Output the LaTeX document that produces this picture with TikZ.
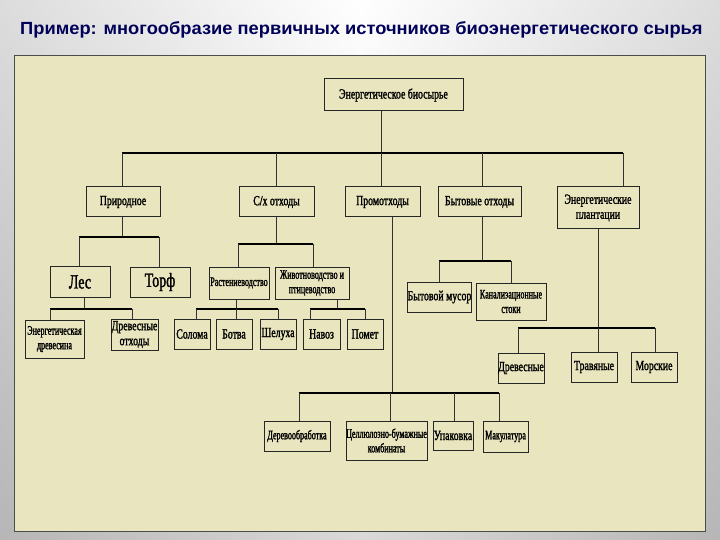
\documentclass[tikz,border=0pt]{standalone}
\usepackage{fontspec}
\setmainfont{Liberation Serif}
\newfontfamily\boxfont[FakeStretch=0.7,FakeBold=1.5]{Liberation Serif}
\newfontfamily\boxfontn[FakeStretch=0.62,FakeBold=1.5]{Liberation Serif}
\newfontfamily\titlefont[FakeStretch=1.04]{Liberation Sans}
\begin{document}
\begin{tikzpicture}[x=1pt,y=-1pt,
  box/.style={draw=black!85,line width=1pt,fill=none,inner sep=0pt,align=center,font=\boxfont\fontsize{14}{15}\selectfont},
  narrow/.style={font=\boxfontn\fontsize{13}{14.5}\selectfont},
  big/.style={font=\boxfont\fontsize{20}{21}\selectfont},
  ln/.style={draw=black!80,line width=0.7pt},
  bus/.style={draw=black,line width=1.4pt}]
\newcommand\bx[7][]{\node[box,#1,minimum width={(#5-#3)*1pt},minimum height={(#6-#4)*1pt}] (#2) at ({(#3+#5)/2},{(#4+#6)/2}) {#7};}
\shade[top color=white,bottom color=gray!75] (0,0) rectangle (720,540);
\shade[left color=gray!45,right color=gray!45,middle color=white,opacity=0.6] (0,0) rectangle (720,540);
\node[font=\titlefont\bfseries\fontsize{17.6}{19}\selectfont,text=blue!35!black,anchor=west,inner sep=0] (title) at (20,30) {Пример: многообразие первичных источников биоэнергетического сырья};
\node[draw=black!70,line width=1.2pt,fill={rgb,255:red,233;green,229;blue,190},minimum width=691pt,minimum height=476pt,anchor=north west,inner sep=0] (panel) at (14,55) {};
\bx{root}{324}{79}{463}{111}{Энергетическое биосырье}
\bx{prir}{86}{187}{160}{217}{Природное}
\bx{sx}{239}{187}{314}{217}{С/х отходы}
\bx{prom}{345}{187}{420}{217}{Промотходы}
\bx{byt}{438}{187}{521}{217}{Бытовые отходы}
\bx{plan}{557}{187}{639}{229}{Энергетические\\плантации}
\node[box,big,minimum width=60pt,minimum height=31pt] (les) at (80,282) {Лес};
\node[box,big,minimum width=60pt,minimum height=30pt] (torf) at (160,282) {Торф};
\bx[narrow]{rast}{209}{267}{269}{299}{Растениеводство}
\bx[narrow]{jiv}{275}{267}{349}{299}{Животноводство и\\птицеводство}
\bx[narrow]{ed}{25}{320}{84}{358}{Энергетическая\\древесина}
\bx{do}{111}{319}{158}{350}{Древесные\\отходы}
\bx{sol}{174}{319}{210}{349}{Солома}
\bx{botva}{216}{319}{252}{349}{Ботва}
\bx{shel}{260}{319}{296}{349}{Шелуха}
\bx{navoz}{303}{319}{340}{349}{Навоз}
\bx{pomet}{347}{319}{383}{349}{Помет}
\bx{bm}{409}{282}{470}{312}{Бытовой мусор}
\bx[narrow]{kan}{476}{283}{546}{320}{Канализационные\\стоки}
\bx{drev}{498}{353}{544}{383}{Древесные}
\bx{trav}{571}{352}{617}{382}{Травяные}
\bx{mor}{631}{352}{677}{382}{Морские}
\bx[narrow]{dero}{264}{421}{330}{451}{Деревообработка}
\bx[narrow]{cbk}{346}{421}{427}{460}{Целлюлозно-бумажные\\комбинаты}
\bx{upak}{433}{421}{473}{450}{Упаковка}
\bx[narrow]{makul}{483}{421}{528}{452}{Макулатура}
% level 1
\draw[ln] (root.south -| 381,0) -- (381,153);
\draw[bus] (122,153) -- (623,153);
\draw[ln] (122,153) -- (prir.north -| 122,0);
\draw[ln] (276,153) -- (sx.north -| 276,0);
\draw[ln] (381,153) -- (prom.north -| 381,0);
\draw[ln] (482,153) -- (byt.north -| 482,0);
\draw[ln] (623,153) -- (plan.north -| 623,0);
% Природное
\draw[ln] (prir.south -| 122,0) -- (122,237);
\draw[bus] (79,237) -- (159,237);
\draw[ln] (79,237) -- (les.north -| 79,0);
\draw[ln] (159,237) -- (torf.north -| 159,0);
% Лес
\draw[ln] (les.south -| 84,0) -- (84,309);
\draw[bus] (50,309) -- (132,309);
\draw[ln] (50,309) -- (ed.north -| 50,0);
\draw[ln] (132,309) -- (do.north -| 132,0);
% С/х
\draw[ln] (sx.south -| 276,0) -- (276,244);
\draw[bus] (238,244) -- (313,244);
\draw[ln] (238,244) -- (rast.north -| 238,0);
\draw[ln] (313,244) -- (jiv.north -| 313,0);
% Растениеводство
\draw[ln] (rast.south -| 236,0) -- (236,309);
\draw[bus] (196,309) -- (278,309);
\draw[ln] (196,309) -- (sol.north -| 196,0);
\draw[ln] (236,309) -- (botva.north -| 236,0);
\draw[ln] (278,309) -- (shel.north -| 278,0);
% Животноводство
\draw[ln] (jiv.south -| 337,0) -- (337,309);
\draw[bus] (310,309) -- (365,309);
\draw[ln] (310,309) -- (navoz.north -| 310,0);
\draw[ln] (365,309) -- (pomet.north -| 365,0);
% Бытовые
\draw[ln] (byt.south -| 482,0) -- (482,261);
\draw[bus] (439,261) -- (511,261);
\draw[ln] (439,261) -- (bm.north -| 439,0);
\draw[ln] (511,261) -- (kan.north -| 511,0);
% Плантации
\draw[ln] (plan.south -| 598,0) -- (598,328);
\draw[bus] (518,328) -- (655,328);
\draw[ln] (518,328) -- (drev.north -| 518,0);
\draw[ln] (598,328) -- (trav.north -| 598,0);
\draw[ln] (655,328) -- (mor.north -| 655,0);
% Промотходы
\draw[ln] (prom.south -| 392,0) -- (392,393);
\draw[bus] (299,393) -- (499,393);
\draw[ln] (299,393) -- (dero.north -| 299,0);
\draw[ln] (390,393) -- (cbk.north -| 390,0);
\draw[ln] (454,393) -- (upak.north -| 454,0);
\draw[ln] (499,393) -- (makul.north -| 499,0);
\end{tikzpicture}
\end{document}
